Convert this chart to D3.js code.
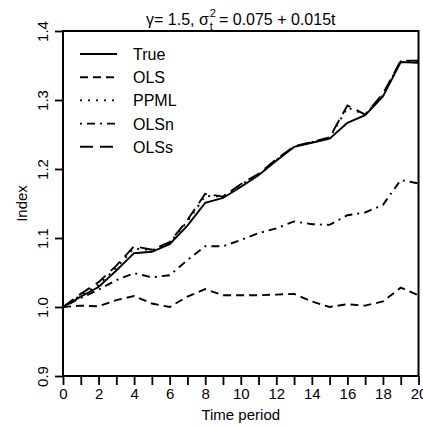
<!DOCTYPE html>
<html>
<head>
<meta charset="utf-8">
<script src="https://cdn.jsdelivr.net/npm/d3@7"></script>
<style>
  html, body { margin: 0; padding: 0; background: #fff; }
  svg { display: block; font-family: "Liberation Sans", Arial, Helvetica, sans-serif; }
</style>
</head>
<body>
<div id="chart"></div>
<script>
// Datos
const periods = d3.range(0, 21);
const trueIdx = [1.000, 1.015, 1.029, 1.053, 1.078, 1.080, 1.091, 1.118, 1.151, 1.158, 1.174, 1.191, 1.212, 1.232, 1.238, 1.244, 1.267, 1.278, 1.305, 1.355, 1.354];
const olsIdx  = [1.000, 1.002, 1.001, 1.010, 1.016, 1.005, 1.000, 1.015, 1.026, 1.017, 1.017, 1.017, 1.018, 1.019, 1.008, 1.000, 1.004, 1.002, 1.008, 1.028, 1.017];
const ppmlIdx = [1.000, 1.017, 1.032, 1.057, 1.085, 1.082, 1.093, 1.124, 1.161, 1.160, 1.177, 1.192, 1.213, 1.232, 1.239, 1.245, 1.289, 1.279, 1.307, 1.356, 1.356];
const olsnIdx = [1.000, 1.013, 1.025, 1.039, 1.049, 1.043, 1.046, 1.068, 1.088, 1.088, 1.097, 1.107, 1.114, 1.124, 1.120, 1.119, 1.133, 1.137, 1.148, 1.184, 1.179];
const olssIdx = [1.000, 1.019, 1.036, 1.060, 1.088, 1.083, 1.094, 1.126, 1.164, 1.160, 1.178, 1.193, 1.214, 1.233, 1.239, 1.246, 1.292, 1.279, 1.309, 1.357, 1.357];

const seriesNames = ["True", "OLS", "PPML", "OLSn", "OLSs"];
const seriesValues = [trueIdx, olsIdx, ppmlIdx, olsnIdx, olssIdx];
const seriesDash = ["none", "8,5", "2,6", "2,5,8,5", "13,7"];

const xTicks = d3.range(0, 21);
const yTicks = [0.9, 1.0, 1.1, 1.2, 1.3, 1.4];

const W = 423, H = 428;
const margin = { top: 31, right: 4.5, bottom: 52, left: 63 };

const svg = d3.select("#chart").append("svg")
  .attr("width", W)
  .attr("height", H);

const x = d3.scaleLinear().domain([0, 20]).range([margin.left, W - margin.right]);
const y = d3.scaleLinear().domain([0.9, 1.4]).range([H - margin.bottom, margin.top]);

// Ejes
const xAxis = svg.append("g")
  .attr("transform", `translate(0,${H - margin.bottom})`)
  .call(d3.axisBottom(x).tickValues(xTicks).tickSize(9).tickPadding(3)
    .tickFormat(d => (d % 2 === 0 ? d : "")));
xAxis.select(".domain").remove();
xAxis.selectAll("line").attr("stroke", "#000").attr("stroke-width", 1.8);
xAxis.selectAll("text").attr("font-size", 15).attr("fill", "#000")
  .attr("font-family", "Liberation Sans, Arial, sans-serif");

const yAxis = svg.append("g")
  .attr("transform", `translate(${margin.left},0)`)
  .call(d3.axisLeft(y).tickValues(yTicks).tickSize(8).tickFormat(d3.format(".1f")));
yAxis.select(".domain").remove();
yAxis.selectAll("line").attr("stroke", "#000").attr("stroke-width", 1.8);
yAxis.selectAll("text")
  .attr("font-size", 15).attr("fill", "#000")
  .attr("font-family", "Liberation Sans, Arial, sans-serif")
  .attr("text-anchor", "middle")
  .attr("x", null).attr("dy", null)
  .attr("transform", "translate(-15,0) rotate(-90)")
  .attr("y", 0);

// Líneas de las series
const line = d3.line()
  .x((d, i) => x(periods[i]))
  .y(d => y(d));

const plot = svg.append("g");
seriesValues.forEach((vals, k) => {
  plot.append("path")
    .datum(vals)
    .attr("d", line)
    .attr("fill", "none")
    .attr("stroke", "#000")
    .attr("stroke-width", 1.9)
    .attr("stroke-dasharray", seriesDash[k]);
});

// Marco
svg.append("rect")
  .attr("x", x(0)).attr("y", y(1.4))
  .attr("width", x(20) - x(0)).attr("height", y(0.9) - y(1.4))
  .attr("fill", "none").attr("stroke", "#000").attr("stroke-width", 2);

// Leyenda
const legend = svg.append("g").attr("transform", "translate(80,54)");
seriesNames.forEach((name, k) => {
  const row = legend.append("g").attr("transform", `translate(0,${k * 23.2})`);
  row.append("line")
    .attr("x1", 0).attr("x2", 37).attr("y1", 0).attr("y2", 0)
    .attr("stroke", "#000").attr("stroke-width", 1.9)
    .attr("stroke-dasharray", seriesDash[k]);
  row.append("text")
    .attr("x", 53).attr("y", 6)
    .attr("font-size", 16)
    .text(name);
});

// Títulos de ejes
svg.append("text")
  .attr("x", (x(0) + x(20)) / 2).attr("y", 420)
  .attr("text-anchor", "middle").attr("font-size", 15)
  .text("Time period");

svg.append("text")
  .attr("transform", `translate(27,${(y(0.9) + y(1.4)) / 2}) rotate(-90)`)
  .attr("text-anchor", "middle").attr("font-size", 15)
  .text("Index");

// Título con subíndice y superíndice apilados
const title = svg.append("g");
const baseY = 25;
const p1 = title.append("text").attr("y", baseY).attr("font-size", 16).text("\u03b3= 1.5, \u03c3");
const w1 = p1.node().getComputedTextLength();
const sup = title.append("text").attr("x", w1 + 1).attr("y", baseY - 8).attr("font-size", 11).text("2");
const sub = title.append("text").attr("x", w1 + 1).attr("y", baseY + 5).attr("font-size", 11).text("t");
const ws = Math.max(sup.node().getComputedTextLength(), sub.node().getComputedTextLength());
const p2 = title.append("text").attr("x", w1 + ws + 4).attr("y", baseY).attr("font-size", 16)
  .text("= 0.075 + 0.015t");
const totalW = w1 + ws + 4 + p2.node().getComputedTextLength();
title.attr("transform", `translate(${(x(0) + x(20)) / 2 - totalW / 2},0)`);
</script>
</body>
</html>
